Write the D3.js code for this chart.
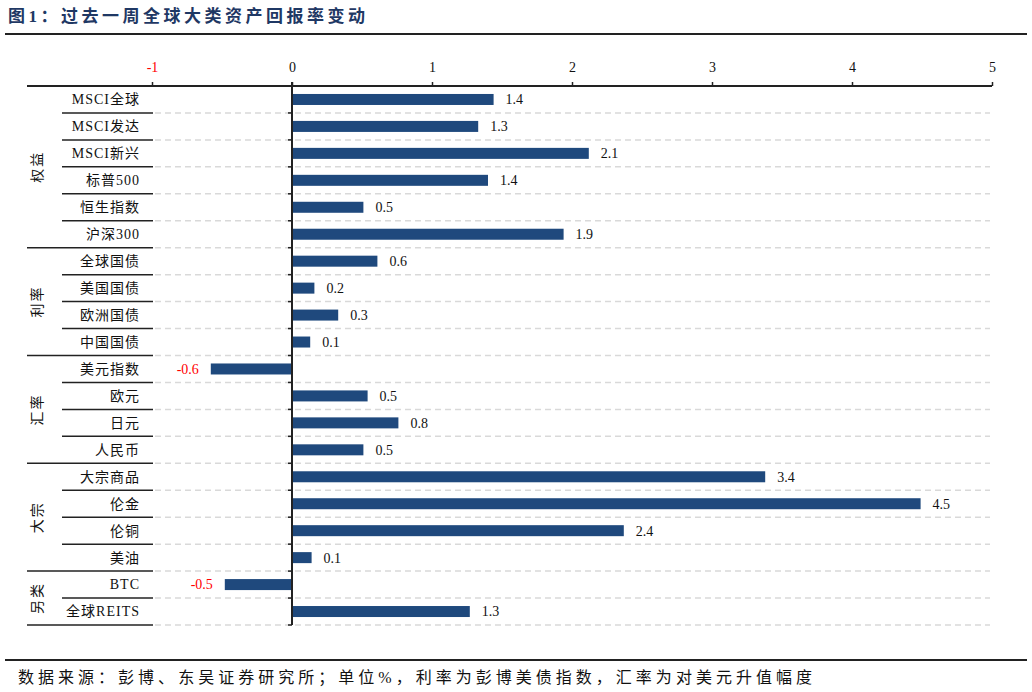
<!DOCTYPE html>
<html>
<head>
<meta charset="utf-8">
<script src="https://cdn.jsdelivr.net/npm/d3@7"></script>
<style>
  body { margin: 0; background: #fff; }
  text { font-family: "Liberation Serif", "Noto Sans CJK SC", serif; }
</style>
</head>
<body>
<div id="chart"></div>
<script>
////////////////////////////////////////////////////////////
//////////////////////// Data //////////////////////////////
////////////////////////////////////////////////////////////

var assets = ["MSCI全球","MSCI发达","MSCI新兴","标普500","恒生指数","沪深300",
              "全球国债","美国国债","欧洲国债","中国国债",
              "美元指数","欧元","日元","人民币",
              "大宗商品","伦金","伦铜","美油",
              "BTC","全球REITS"];
var returns = [1.44, 1.33, 2.12, 1.40, 0.51, 1.94,
               0.61, 0.16, 0.33, 0.13,
               -0.58, 0.54, 0.76, 0.51,
               3.38, 4.49, 2.37, 0.14,
               -0.48, 1.27];
var groupNames = ["权益","利率","汇率","大宗","另类"];
var groupSizes = [6, 4, 4, 4, 2];
var tickValues = [-1, 0, 1, 2, 3, 4, 5];

var title = "图1：过去一周全球大类资产回报率变动",
    source = "数据来源：彭博、东吴证券研究所；单位%，利率为彭博美债指数，汇率为对美元升值幅度";

////////////////////////////////////////////////////////////
//////////////////////// Set-Up ////////////////////////////
////////////////////////////////////////////////////////////

var width = 1032, height = 692,
    plotTop = 86, plotBottom = 625,
    labelLeft = 27, itemLeft = 62, labelRight = 153,
    barColor = "#1f497d", negColor = "#ff0000";

// plain hyphen for negatives, like the source chart
var locale = d3.formatLocale({decimal: ".", thousands: ",", grouping: [3], currency: ["", ""], minus: "-"});
var fmtTick = locale.format("d"),
    fmtVal = locale.format(".1f");

var x = d3.scaleLinear().domain([-1, 5]).range([152, 992]);
var y = d3.scaleBand().domain(assets).range([plotTop, plotBottom]).paddingInner(0.6).paddingOuter(0.3);
var rowH = (plotBottom - plotTop) / assets.length;

var svg = d3.select("#chart").append("svg")
    .attr("width", width)
    .attr("height", height);

// title + rules
svg.append("text")
    .attr("x", 8).attr("y", 22)
    .attr("textLength", 357).attr("lengthAdjust", "spacing")
    .style("font-size", "17px").style("font-weight", "bold")
    .style("fill", "#1f3864")
    .text(title);

svg.append("line").attr("x1", 5).attr("x2", 1027).attr("y1", 34).attr("y2", 34)
    .style("stroke", "#222").style("stroke-width", 2);
svg.append("line").attr("x1", 5).attr("x2", 1027).attr("y1", 660).attr("y2", 660)
    .style("stroke", "#222").style("stroke-width", 2);

svg.append("text")
    .attr("x", 18).attr("y", 683)
    .attr("textLength", 794).attr("lengthAdjust", "spacing")
    .style("font-size", "16px").style("fill", "#111")
    .text(source);

////////////////////////////////////////////////////////////
//////////////////////// Axis //////////////////////////////
////////////////////////////////////////////////////////////

var axis = svg.append("g")
    .attr("transform", "translate(0," + plotTop + ")")
    .call(d3.axisTop(x).tickValues(tickValues).tickSize(4).tickSizeOuter(0).tickFormat(fmtTick));
axis.select(".domain").remove();
axis.selectAll(".tick line").style("stroke", "#222").style("stroke-width", 1.5);
axis.selectAll(".tick text")
    .attr("y", -14)
    .style("font-size", "14px")
    .style("font-family", "Liberation Serif, serif")
    .style("fill", function(d) { return d < 0 ? negColor : "#111"; });

svg.append("line")
    .attr("x1", labelLeft).attr("x2", x(5))
    .attr("y1", plotTop).attr("y2", plotTop)
    .style("stroke", "#222").style("stroke-width", 2);

////////////////////////////////////////////////////////////
/////////////////// Row separators /////////////////////////
////////////////////////////////////////////////////////////

// row index where each group starts
var groupStarts = [], acc = 0;
groupSizes.forEach(function(s) { groupStarts.push(acc); acc += s; });

var boundaries = d3.range(1, assets.length + 1);

svg.selectAll("line.dash")
    .data(boundaries)
    .enter().append("line")
    .attr("class", "dash")
    .attr("x1", 155).attr("x2", 990)
    .attr("y1", function(i) { return plotTop + i * rowH; })
    .attr("y2", function(i) { return plotTop + i * rowH; })
    .style("stroke", "#d9d9d9").style("stroke-width", 1.5)
    .style("stroke-dasharray", "6,4");

svg.selectAll("line.sep")
    .data(boundaries)
    .enter().append("line")
    .attr("class", "sep")
    .attr("x1", function(i) { return (groupStarts.indexOf(i) >= 0 || i === assets.length) ? labelLeft : itemLeft; })
    .attr("x2", labelRight)
    .attr("y1", function(i) { return plotTop + i * rowH; })
    .attr("y2", function(i) { return plotTop + i * rowH; })
    .style("stroke", "#222").style("stroke-width", 1.5);

// little ticks on the zero line
svg.selectAll("line.ztick")
    .data(boundaries)
    .enter().append("line")
    .attr("class", "ztick")
    .attr("x1", x(0) - 4).attr("x2", x(0))
    .attr("y1", function(i) { return plotTop + i * rowH; })
    .attr("y2", function(i) { return plotTop + i * rowH; })
    .style("stroke", "#222").style("stroke-width", 1.5);

////////////////////////////////////////////////////////////
//////////////////////// Bars //////////////////////////////
////////////////////////////////////////////////////////////

svg.selectAll("rect.bar")
    .data(returns)
    .enter().append("rect")
    .attr("class", "bar")
    .attr("x", function(d) { return x(Math.min(0, d)); })
    .attr("width", function(d) { return Math.abs(x(d) - x(0)); })
    .attr("y", function(d, i) { return y(assets[i]) + y.bandwidth() / 2 - 5.5; })
    .attr("height", 11)
    .style("fill", barColor);

svg.append("line")
    .attr("x1", x(0)).attr("x2", x(0))
    .attr("y1", plotTop - 4).attr("y2", plotBottom)
    .style("stroke", "#222").style("stroke-width", 2);

svg.selectAll("text.val")
    .data(returns)
    .enter().append("text")
    .attr("class", "val")
    .attr("x", function(d) { return d < 0 ? x(d) - 12 : x(d) + 12; })
    .attr("y", function(d, i) { return y(assets[i]) + y.bandwidth() / 2; })
    .attr("dy", "0.35em")
    .style("text-anchor", function(d) { return d < 0 ? "end" : "start"; })
    .style("font-size", "14px")
    .style("fill", function(d) { return d < 0 ? negColor : "#111"; })
    .text(function(d) { return fmtVal(d); });

////////////////////////////////////////////////////////////
/////////////////////// Labels /////////////////////////////
////////////////////////////////////////////////////////////

svg.selectAll("text.item")
    .data(assets)
    .enter().append("text")
    .attr("class", "item")
    .attr("x", 140)
    .attr("y", function(d) { return y(d) + y.bandwidth() / 2; })
    .attr("dy", "0.35em")
    .style("text-anchor", "end")
    .style("font-size", "14px")
    .style("letter-spacing", "1px")
    .style("fill", "#111")
    .text(function(d) { return d; });

svg.selectAll("text.group")
    .data(groupNames)
    .enter().append("text")
    .attr("class", "group")
    .attr("transform", function(d, i) {
      var cy = plotTop + (groupStarts[i] + groupSizes[i] / 2) * rowH;
      return "translate(37," + cy + ") rotate(-90)";
    })
    .attr("dy", "0.35em")
    .style("text-anchor", "middle")
    .style("font-size", "14px")
    .style("letter-spacing", "2px")
    .style("fill", "#111")
    .text(function(d) { return d; });
</script>
</body>
</html>
